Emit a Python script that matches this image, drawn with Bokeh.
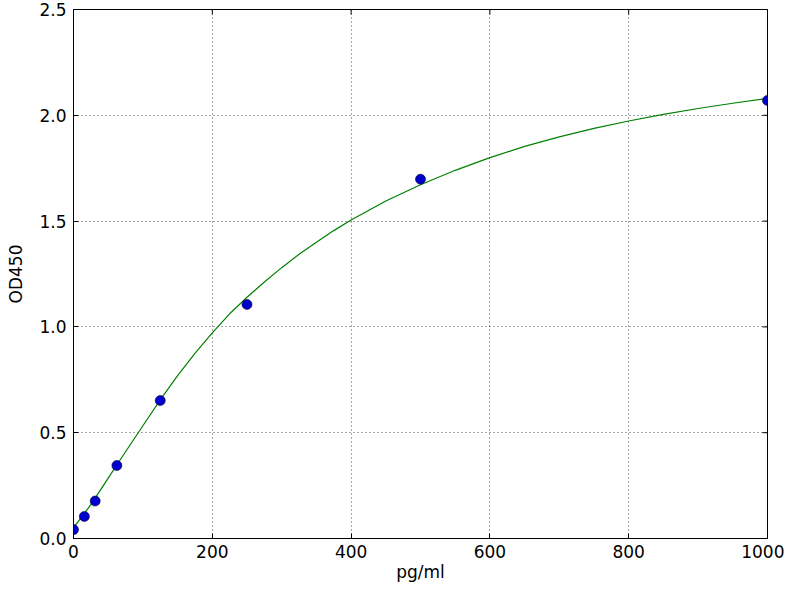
import math

from bokeh.embed import file_html
from bokeh.models import FixedTicker, PrintfTickFormatter, Range1d
from bokeh.plotting import figure
from bokeh.resources import INLINE

# measured standards (pg/ml vs OD450)
conc = [0, 15.625, 31.25, 62.5, 125, 250, 500, 1000]
od450 = [0.042, 0.104, 0.177, 0.345, 0.652, 1.106, 1.698, 2.07]

# fitted curve
fit_x = [0, 25, 50, 75, 100, 125, 150, 175, 200, 225, 250, 275, 300, 325,
         350, 375, 400, 450, 500, 550, 600, 650, 700, 750, 800, 850, 900,
         950, 1000]
fit_y = [0.05, 0.16, 0.285, 0.41, 0.533, 0.655, 0.77, 0.875, 0.972, 1.062,
         1.14, 1.212, 1.28, 1.343, 1.40, 1.455, 1.505, 1.595, 1.672, 1.74,
         1.80, 1.853, 1.898, 1.938, 1.973, 2.004, 2.032, 2.057, 2.08]

x_ticks = [0, 200, 400, 600, 800, 1000]
y_ticks = [0.0, 0.5, 1.0, 1.5, 2.0, 2.5]

FONT = "DejaVu Sans"

p = figure(
    width=784,
    height=584,
    x_range=Range1d(0, 1000),
    y_range=Range1d(0, 2.5),
    output_backend="svg",
    toolbar_location=None,
    x_axis_label="pg/ml",
    y_axis_label="OD450",
    min_border_left=73,
    min_border_right=17,
    min_border_top=9,
    min_border_bottom=40,
)
p.outline_line_color = "black"
p.outline_line_width = 1

p.line(fit_x, fit_y, line_color="#008000", line_width=1.2)
p.scatter(conc, od450, size=10, fill_color="#0000cc", line_color="#000033", line_width=0.6)

# inward ticks on the top and right edges (outer half is clipped by the frame)
p.scatter(x_ticks, [y_ticks[-1]] * len(x_ticks), marker="dash", angle=math.pi / 2,
          size=10, line_color="black", line_width=1)
p.scatter([x_ticks[-1]] * len(y_ticks), y_ticks, marker="dash", angle=0,
          size=10, line_color="black", line_width=1)

for ax in (p.xaxis[0], p.yaxis[0]):
    ax.axis_label_text_font = FONT
    ax.axis_label_text_font_style = "normal"
    ax.axis_label_text_font_size = "17px"
    ax.axis_label_text_color = "black"
    ax.major_label_text_font = FONT
    ax.major_label_text_font_size = "17px"
    ax.major_label_text_color = "black"
    ax.major_tick_in = 5
    ax.major_tick_out = 0
    ax.minor_tick_in = 0
    ax.minor_tick_out = 0
    ax.axis_line_color = "black"
    ax.major_tick_line_color = "black"
    ax.major_label_standoff = 7

p.xaxis.ticker = FixedTicker(ticks=x_ticks)
p.yaxis.ticker = FixedTicker(ticks=y_ticks)
p.yaxis.formatter = PrintfTickFormatter(format="%.1f")
p.xaxis.major_label_standoff = 6
p.xaxis.axis_label_standoff = 1
p.yaxis.axis_label_standoff = 10

p.grid.grid_line_color = "black"
p.grid.grid_line_alpha = 0.7
p.grid.grid_line_dash = "1 3"
p.grid.grid_line_width = 1
p.xgrid.ticker = FixedTicker(ticks=x_ticks)
p.ygrid.ticker = FixedTicker(ticks=y_ticks)

open("out.html", "w").write(file_html(p, INLINE))
